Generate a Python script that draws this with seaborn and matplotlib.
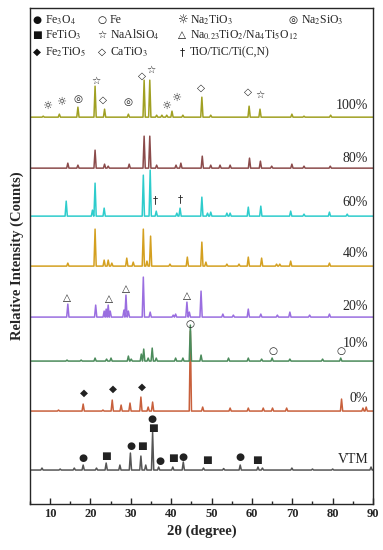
import numpy as np
import pandas as pd
import matplotlib
matplotlib.use("Agg")
import matplotlib.pyplot as plt
import seaborn as sns

# sample order from bottom to top, with their vertical offsets and colours
samples = ["VTM", "0%", "10%", "20%", "40%", "60%", "80%", "100%"]
offsets = [34, 93, 143, 187, 238, 288, 336, 387]
colors = ["#555555", "#c8603c", "#4b8b5b", "#9a6ee0", "#d4a020", "#2ecccc", "#8b4b4b", "#a0a022"]
label_lift = [11, 13, 18, 11, 13, 14, 10, 12]

pos_vtm = [8.0, 12.5, 16.0, 18.2, 21.5, 23.9, 27.3, 29.9, 32.5, 33.7, 35.4, 36.9, 40.4, 43.0, 48.0, 53.0, 57.1, 61.5, 62.6, 69.9, 75.0, 80.0, 89.5]
hgt_vtm = [2, 1, 2, 5, 2, 7, 5, 17, 14, 5, 38, 3, 3, 8, 2, 1.5, 5, 3, 2, 2, 1, 1, 3]
pos_0 = [12.1, 18.2, 23.1, 25.4, 27.6, 29.8, 32.5, 34.3, 35.4, 44.75, 47.8, 54.6, 59.1, 62.8, 65.1, 68.6, 82.2, 87.5, 88.3]
hgt_0 = [1, 7, 1, 11, 6, 8, 14, 4, 9, 80, 4, 3, 3, 3, 3, 3, 12, 3, 4]
pos_10 = [14.2, 17.7, 21.15, 24.0, 25.1, 29.4, 30.1, 32.6, 33.2, 34.3, 35.3, 36.3, 41.1, 42.9, 44.75, 47.4, 54.2, 59.1, 62.4, 65.0, 69.4, 77.5, 82.0]
hgt_10 = [1, 1, 3, 2, 3, 5, 2, 7, 12, 3, 13, 3, 3, 3, 36, 6, 3, 3, 2, 3, 2, 2, 3]
pos_20 = [14.4, 21.3, 23.4, 23.9, 24.4, 24.9, 28.3, 28.8, 29.4, 33.1, 34.8, 40.5, 41.1, 43.9, 44.5, 47.4, 52.8, 55.4, 59.1, 62.2, 66.3, 69.4, 74.3, 79.2]
hgt_20 = [13, 12, 6, 8, 12, 6, 7, 22, 6, 40, 5, 2, 3, 15, 5, 26, 3, 2, 8, 3, 2, 5, 2, 3]
pos_40 = [14.4, 21.15, 23.4, 24.4, 25.3, 29.0, 30.6, 33.1, 34.0, 34.9, 39.7, 44.0, 47.6, 48.6, 53.8, 56.8, 59.1, 62.4, 66.1, 66.9, 69.6, 79.2]
hgt_40 = [3, 37, 6, 6, 3, 8, 4, 37, 5, 30, 2, 9, 24, 4, 2, 2, 9, 8, 2, 2, 5, 3]
pos_60 = [14.0, 20.5, 21.15, 23.4, 33.1, 34.8, 36.3, 41.4, 42.2, 47.6, 49.0, 49.8, 53.8, 54.6, 59.1, 62.2, 69.6, 72.9, 79.2, 83.6]
hgt_60 = [15, 6, 33, 8, 41, 46, 5, 3, 8, 19, 3, 4, 3, 3, 9, 10, 5, 2, 4, 2]
pos_80 = [14.4, 16.9, 21.15, 23.5, 24.4, 29.6, 33.3, 34.7, 36.4, 41.2, 42.4, 47.7, 49.8, 52.1, 54.6, 59.4, 62.1, 64.9, 69.9, 72.9, 79.4]
hgt_80 = [5, 3, 18, 4, 2, 4, 32, 32, 3, 3, 5, 12, 3, 3, 3, 10, 7, 2, 4, 2, 2]
pos_100 = [8.3, 12.3, 16.9, 21.15, 23.5, 29.4, 33.3, 34.7, 36.4, 37.7, 38.9, 40.2, 42.9, 47.6, 49.8, 59.3, 62.0, 69.9, 72.9, 79.5]
hgt_100 = [1, 3, 10, 31, 8, 3, 37, 37, 2, 2, 2, 6, 2, 20, 2, 11, 8, 3, 1, 2]

peak_pos = [pos_vtm, pos_0, pos_10, pos_20, pos_40, pos_60, pos_80, pos_100]
peak_hgt = [hgt_vtm, hgt_0, hgt_10, hgt_20, hgt_40, hgt_60, hgt_80, hgt_100]

# phase markers: (sample, symbol, 2theta, height above baseline)
marks = [
    ("100%", "☼", 9.2, 11), ("100%", "☼", 12.6, 15), ("100%", "◎", 16.8, 18),
    ("100%", "☆", 21.3, 36), ("100%", "◇", 23.1, 17), ("100%", "◎", 29.4, 15),
    ("100%", "◇", 32.7, 41), ("100%", "☆", 35.1, 47), ("100%", "☼", 38.8, 11),
    ("100%", "☼", 41.3, 19), ("100%", "◇", 47.3, 29), ("100%", "◇", 59.1, 25),
    ("100%", "☆", 62.0, 22),
    ("60%", "†", 36.0, 16), ("60%", "†", 42.2, 17),
    ("20%", "△", 14.3, 19), ("20%", "△", 24.5, 18), ("20%", "△", 28.8, 28), ("20%", "△", 43.9, 21),
    ("10%", "○", 44.75, 37), ("10%", "○", 65.1, 10), ("10%", "○", 82.0, 10),
    ("0%", "◆", 18.4, 18), ("0%", "◆", 25.6, 22), ("0%", "◆", 32.8, 24),
    ("VTM", "●", 18.2, 12), ("VTM", "■", 23.9, 14), ("VTM", "●", 30.1, 24),
    ("VTM", "■", 32.7, 24), ("VTM", "●", 35.2, 51), ("VTM", "■", 35.4, 42),
    ("VTM", "●", 37.1, 9), ("VTM", "■", 40.4, 12), ("VTM", "●", 43.0, 13),
    ("VTM", "■", 48.8, 10), ("VTM", "●", 57.1, 13), ("VTM", "■", 61.3, 10),
]

legend_cols = [
    [("●", "Fe$_3$O$_4$"), ("■", "FeTiO$_3$"), ("◆", "Fe$_2$TiO$_5$")],
    [("○", "Fe"), ("☆", "NaAlSiO$_4$"), ("◇", "CaTiO$_3$")],
    [("☼", "Na$_2$TiO$_3$"), ("△", "Na$_{0.23}$TiO$_2$/Na$_4$Ti$_5$O$_{12}$"), ("†", "TiO/TiC/Ti(C,N)")],
    [("◎", "Na$_2$SiO$_3$")],
]

sns.set_style("ticks")
plt.rcParams["font.family"] = ["Liberation Serif", "DejaVu Serif"]
plt.rcParams["mathtext.fontset"] = "stix"

# build line points: each peak drawn as a narrow spike on the baseline
w = 0.28
rows = []
for s, off, ps, hs in zip(samples, offsets, peak_pos, peak_hgt):
    rows.append((s, 5.0, off))
    for p, h in sorted(zip(ps, hs)):
        rows.append((s, p - w, off))
        rows.append((s, p, off + h))
        rows.append((s, p + w, off))
    rows.append((s, 90.0, off))
df = pd.DataFrame(rows, columns=["sample", "two_theta", "intensity"])

fig = plt.figure(figsize=(3.83, 5.5), dpi=100)
ax = fig.add_axes([0.078, 0.0836, 0.896, 0.9015])

sns.lineplot(data=df, x="two_theta", y="intensity", hue="sample", hue_order=samples,
             palette=colors, sort=False, estimator=None, legend=False, linewidth=1.1, ax=ax)

sym = ["DejaVu Sans"]
base = dict(zip(samples, offsets))
for s, g, x, lift in marks:
    fs = 8 if g == "☼" else 7.5
    ax.text(x, base[s] + lift, g, ha="center", va="center", fontsize=fs, family=sym, color="#222222")

for s, off, lift in zip(samples, offsets, label_lift):
    ax.text(88.8, off + lift, s, ha="right", va="center", fontsize=10)

col_x = [6.8, 22.9, 42.7, 70.2]
row_y = [484, 469, 452]
for cx, col in zip(col_x, legend_cols):
    for ry, (g, txt) in zip(row_y, col):
        fs = 8.5 if g == "☼" else 7.5
        ax.text(cx, ry, g, ha="center", va="center", fontsize=fs, family=sym, color="#111111")
        ax.text(cx + 1.9, ry, txt, ha="left", va="center", fontsize=8.5)

ax.set_xlim(5, 90)
ax.set_ylim(0, 496)
ax.set_xticks(np.arange(10, 91, 10))
ax.set_xticks(np.arange(5, 91, 5), minor=True)
ax.set_yticks([])
ax.tick_params(axis="x", which="major", direction="in", length=4, width=1, labelsize=9, pad=3)
ax.tick_params(axis="x", which="minor", direction="in", length=2, width=1)
for lab in ax.get_xticklabels():
    lab.set_fontweight("bold")
for sp in ax.spines.values():
    sp.set_visible(True)
    sp.set_linewidth(1.0)
ax.set_xlabel("2θ (degree)", fontsize=10.5, fontweight="bold", labelpad=3)
ax.set_ylabel("Relative Intensity (Counts)", fontsize=10.5, fontweight="bold", labelpad=4)

fig.savefig("out.png", dpi=100)
